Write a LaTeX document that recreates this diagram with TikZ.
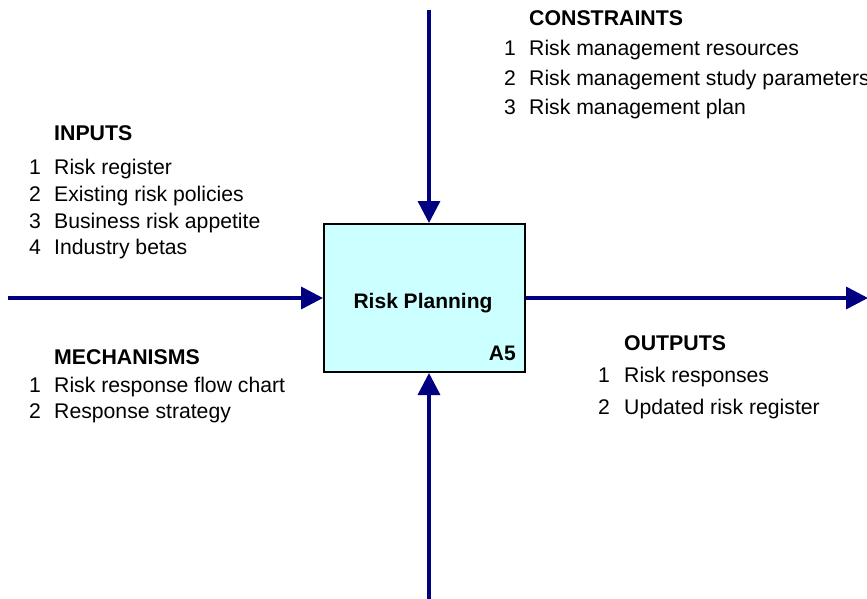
\documentclass[tikz,border=0pt]{standalone}
\usepackage{fontspec}
\setmainfont{Liberation Sans}
\usetikzlibrary{arrows.meta}
\definecolor{arrowblue}{HTML}{000080}
\definecolor{boxfill}{HTML}{CCFFFF}
\begin{document}
\begin{tikzpicture}[x=1pt,y=-1pt,
  txt/.style={anchor=base west,inner sep=0pt,font=\fontsize{21.2}{24}\selectfont},
  ttl/.style={anchor=base west,inner sep=0pt,font=\fontsize{21.3}{24}\selectfont\bfseries},
  flow/.style={draw=arrowblue,line width=3.5pt,-{Triangle[length=22pt,width=22pt]}},
  actbox/.style={draw=black,line width=2pt,fill=boxfill,minimum width=201pt,minimum height=148pt,inner sep=0pt}]
\useasboundingbox (0,0) rectangle (867,599);
\node[actbox] (box) at (424.5,298) {};
\node[anchor=base,inner sep=0pt,font=\fontsize{21}{24}\selectfont\bfseries] (title) at (423,308) {Risk Planning};
\node[anchor=base east,inner sep=0pt,font=\fontsize{21}{24}\selectfont\bfseries] (code) at (516,360) {A5};
% arrows
\coordinate (ctop) at (429,10);
\coordinate (cbot) at (429,599);
\coordinate (cin) at (8,298);
\coordinate (cout) at (868,298);
\draw[flow] (ctop) -- (ctop |- box.north);
\draw[flow] (cbot) -- (cbot |- box.south);
\draw[flow] (cin) -- (box.west |- cin);
\draw[flow] (box.east |- cout) -- (cout);
% constraints
\node[ttl] (ch) at (529,26) {CONSTRAINTS};
\node[txt] (c1n) at (504,56) {1};
\node[txt] (c1) at (529,56) {Risk management resources};
\node[txt] (c2n) at (504,86) {2};
\node[txt] (c2) at (529,86) {Risk management study parameters};
\node[txt] (c3n) at (504,115) {3};
\node[txt] (c3) at (529,115) {Risk management plan};
% inputs
\node[ttl] (ih) at (54,141) {INPUTS};
\node[txt] (i1n) at (29,174) {1};
\node[txt] (i1) at (54,174) {Risk register};
\node[txt] (i2n) at (29,201) {2};
\node[txt] (i2) at (54,201) {Existing risk policies};
\node[txt] (i3n) at (29,228) {3};
\node[txt] (i3) at (54,228) {Business risk appetite};
\node[txt] (i4n) at (29,254) {4};
\node[txt] (i4) at (54,254) {Industry betas};
% mechanisms
\node[ttl] (mh) at (54,364) {MECHANISMS};
\node[txt] (m1n) at (29,392) {1};
\node[txt] (m1) at (54,392) {Risk response flow chart};
\node[txt] (m2n) at (29,418) {2};
\node[txt] (m2) at (54,418) {Response strategy};
% outputs
\node[ttl] (oh) at (624,350) {OUTPUTS};
\node[txt] (o1n) at (598,382) {1};
\node[txt] (o1) at (624,382) {Risk responses};
\node[txt] (o2n) at (598,414) {2};
\node[txt] (o2) at (624,414) {Updated risk register};
\end{tikzpicture}
\end{document}
